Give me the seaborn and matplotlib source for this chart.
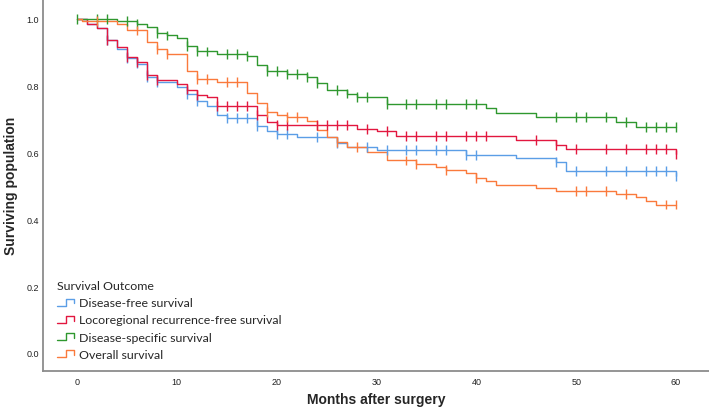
import numpy as np
import pandas as pd
import seaborn as sns
import matplotlib
matplotlib.use("Agg")
import matplotlib.pyplot as plt
from matplotlib.lines import Line2D
from matplotlib.legend_handler import HandlerBase

# Kaplan-Meier curves: step times (months), survival after the step, censor times
outcomes = ["Disease-free survival", "Locoregional recurrence-free survival",
            "Disease-specific survival", "Overall survival"]
colors = ["#5b9ee6", "#e2173f", "#2f982f", "#fa7a3c"]

dfs_times = [0, 1, 2, 3, 4, 5, 6, 7, 8, 10, 11, 12, 13, 14, 15, 18, 19, 20, 22, 26, 27, 30, 39, 44, 48, 49, 60]
dfs_surv = [1.0, 0.985, 0.972, 0.935, 0.910, 0.882, 0.866, 0.826, 0.810, 0.795, 0.775, 0.754, 0.740, 0.712,
            0.704, 0.680, 0.664, 0.654, 0.646, 0.627, 0.616, 0.608, 0.593, 0.583, 0.571, 0.545, 0.528]
dfs_cens = [3, 5, 6, 7, 8, 11, 12, 15, 16, 17, 18, 20, 21, 24, 26, 29, 31, 33, 34, 36, 37, 39, 40, 48, 50,
            53, 55, 57, 58, 59, 60]

lrfs_times = [0, 1, 2, 3, 4, 5, 6, 7, 8, 10, 11, 12, 13, 14, 18, 19, 20, 28, 30, 32, 44, 48, 49, 60]
lrfs_surv = [1.0, 0.985, 0.972, 0.937, 0.915, 0.886, 0.871, 0.832, 0.816, 0.804, 0.788, 0.772, 0.765, 0.738,
             0.712, 0.692, 0.683, 0.670, 0.663, 0.650, 0.638, 0.623, 0.610, 0.594]
lrfs_cens = [3, 5, 6, 7, 8, 11, 12, 14, 15, 16, 17, 18, 20, 21, 24, 25, 26, 27, 29, 31, 33, 34, 36, 37, 39,
             40, 41, 46, 48, 50, 53, 55, 57, 58, 59, 60]

dss_times = [0, 4, 6, 7, 8, 9, 10, 11, 12, 14, 17, 18, 19, 21, 23, 24, 25, 27, 28, 31, 41, 42, 46, 54, 56]
dss_surv = [1.0, 0.993, 0.985, 0.975, 0.958, 0.950, 0.942, 0.918, 0.902, 0.895, 0.888, 0.862, 0.843, 0.835,
            0.826, 0.807, 0.787, 0.776, 0.766, 0.745, 0.732, 0.719, 0.705, 0.691, 0.677]
dss_cens = [0, 2, 3, 5, 6, 8, 9, 11, 12, 13, 15, 16, 17, 19, 20, 21, 22, 23, 24, 26, 27, 28, 29, 31, 33, 34,
            36, 37, 39, 40, 48, 50, 51, 53, 55, 57, 58, 59, 60]

os_times = [0, 0.5, 4, 5, 7, 8, 9, 11, 12, 14, 17, 18, 19, 20, 21, 23, 24, 25, 26, 27, 29, 31, 34, 36, 37,
            39, 40, 41, 42, 46, 48, 54, 56, 57, 58]
os_surv = [1.0, 0.993, 0.985, 0.965, 0.930, 0.908, 0.893, 0.843, 0.820, 0.810, 0.779, 0.749, 0.720, 0.713,
           0.706, 0.693, 0.668, 0.646, 0.630, 0.616, 0.600, 0.576, 0.566, 0.556, 0.548, 0.538, 0.523, 0.513,
           0.503, 0.495, 0.485, 0.475, 0.466, 0.456, 0.444]
os_cens = [2, 6, 8, 9, 12, 13, 15, 16, 19, 21, 22, 26, 28, 33, 34, 37, 40, 50, 51, 53, 55, 59, 60]

x_ticks = [0, 10, 20, 30, 40, 50, 60]
y_ticks = [0.0, 0.2, 0.4, 0.6, 0.8, 1.0]
end_time = 60

series = [(dfs_times, dfs_surv, dfs_cens), (lrfs_times, lrfs_surv, lrfs_cens),
          (dss_times, dss_surv, dss_cens), (os_times, os_surv, os_cens)]

curve_rows = []
cens_rows = []
for name, (t, s, c) in zip(outcomes, series):
    tt = list(t) + ([end_time] if t[-1] < end_time else [])
    ss = list(s) + ([s[-1]] if t[-1] < end_time else [])
    for a, b in zip(tt, ss):
        curve_rows.append({"month": a, "surv": b, "outcome": name})
    t_arr = np.array(t)
    for ct in c:
        idx = np.searchsorted(t_arr, ct, side="right") - 1
        cens_rows.append({"month": ct, "surv": s[idx], "outcome": name})
curves = pd.DataFrame(curve_rows)
cens = pd.DataFrame(cens_rows)
palette = dict(zip(outcomes, colors))

sns.set_style("white")
plt.rcParams["font.family"] = ["Liberation Sans", "DejaVu Sans"]

fig = plt.figure(figsize=(7.09, 4.10), dpi=100)
ax = fig.add_axes([0.0607, 0.0927, 0.9393, 0.9073])

sns.lineplot(data=curves, x="month", y="surv", hue="outcome", palette=palette,
             estimator=None, sort=False, drawstyle="steps-post", linewidth=1.0,
             legend=False, ax=ax)
sns.scatterplot(data=cens, x="month", y="surv", hue="outcome", palette=palette,
                marker="|", s=50, linewidth=1.0, legend=False, ax=ax, zorder=3)

ax.set_xlim(-3.4, 63.3)
ax.set_ylim(-0.054, 1.059)
ax.set_xticks(x_ticks)
ax.set_xticklabels([str(v) for v in x_ticks])
ax.set_yticks(y_ticks)
ax.set_yticklabels([f"{v:.1f}" for v in y_ticks])
ax.tick_params(axis="x", length=0, labelsize=6.5, labelcolor="#222222", pad=4)
ax.tick_params(axis="y", length=0, labelsize=6.5, labelcolor="#222222", pad=3)
for side in ["top", "right"]:
    ax.spines[side].set_visible(False)
for side in ["left", "bottom"]:
    ax.spines[side].set_color("#8c8c8c")
    ax.spines[side].set_linewidth(1.3)

ax.set_xlabel("Months after surgery", fontsize=10, fontweight="bold", labelpad=5)
ax.set_ylabel("Surviving population", fontsize=10, fontweight="bold", labelpad=6)


class StepHandler(HandlerBase):
    # draws the little step icon that SPSS uses in the legend
    def create_artists(self, legend, orig_handle, xdescent, ydescent, width, height, fontsize, trans):
        x0, y0 = -xdescent, -ydescent
        xs = [x0, x0 + 0.5 * width, x0 + 0.5 * width, x0 + width, x0 + width]
        ys = [y0 + 0.1 * height, y0 + 0.1 * height, y0 + 0.85 * height, y0 + 0.85 * height, y0 + 0.35 * height]
        ln = Line2D(xs, ys, color=orig_handle.get_color(), lw=1.0, transform=trans)
        return [ln]


handles = [Line2D([], [], color=c) for c in colors]
leg = ax.legend(handles, outcomes, title="Survival Outcome", loc="lower left",
                bbox_to_anchor=(0.005, 0.0), frameon=False, alignment="left",
                handler_map={Line2D: StepHandler()}, handlelength=1.3, handleheight=0.8,
                handletextpad=0.45, labelspacing=0.5,
                prop={"family": "Lato", "size": 8.9},
                title_fontproperties={"family": "Lato", "size": 8.9})

fig.savefig("out.png", dpi=100)
